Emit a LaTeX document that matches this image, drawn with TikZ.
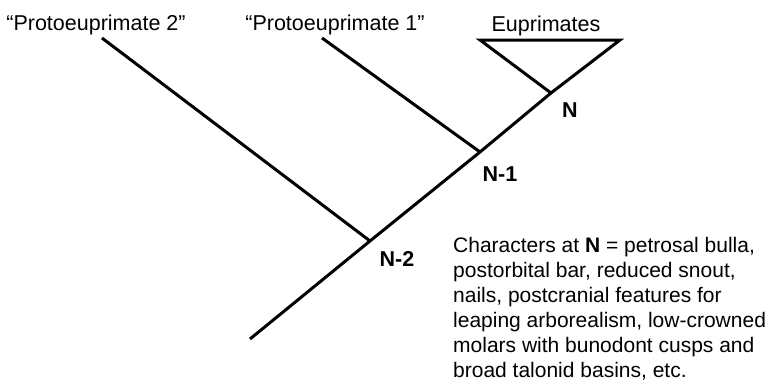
\documentclass[tikz,border=0pt]{standalone}
\usepackage{fontspec}
\setmainfont{Liberation Sans}
\usetikzlibrary{positioning}
\tikzstyle{branch} = [line width=3pt, line join=miter]
\tikzstyle{taxon} = [font=\fontsize{21.5}{25}\selectfont, anchor=base, inner sep=0pt]
\tikzstyle{nodelabel} = [font=\fontsize{21.5}{25}\selectfont\bfseries, inner sep=0pt]
\tikzstyle{note} = [font=\fontsize{21}{25}\selectfont, align=left, anchor=base west, inner sep=0pt]

\begin{document}
\begin{tikzpicture}[x=1pt,y=-1pt]
\useasboundingbox (0,0) rectangle (773,380);
% tree points
\coordinate (root) at (250,339);
\coordinate (n2) at (370,241);
\coordinate (n1) at (480,152);
\coordinate (n) at (551,93);
\coordinate (p2) at (102,38);
\coordinate (p1) at (322,38);
\coordinate (eul) at (480,40);
\coordinate (eur) at (620,40);
% branches
\draw [branch] (root) -- (n2) -- (n1) -- (n) -- (eur) -- (eul) -- (n);
\draw [branch] (n2) -- (p2);
\draw [branch] (n1) -- (p1);
% taxa
\node (lp2)[taxon] at (96,30) {“Protoeuprimate 2”};
\node (lp1)[taxon] at (335,30) {“Protoeuprimate 1”};
\node (leu)[taxon] at (546,31) {Euprimates};
% node labels
\node (ln)[nodelabel] at (570,110) {N};
\node (ln1)[nodelabel] at (500,174) {N-1};
\node (ln2)[nodelabel] at (397,259) {N-2};
\node (chars)[note] at (453,377) {Characters at \textbf{N} = petrosal bulla,\\postorbital bar, reduced snout,\\nails, postcranial features for\\leaping arborealism, low-crowned\\molars with bunodont cusps and\\broad talonid basins, etc.};
\end{tikzpicture}
\end{document}
